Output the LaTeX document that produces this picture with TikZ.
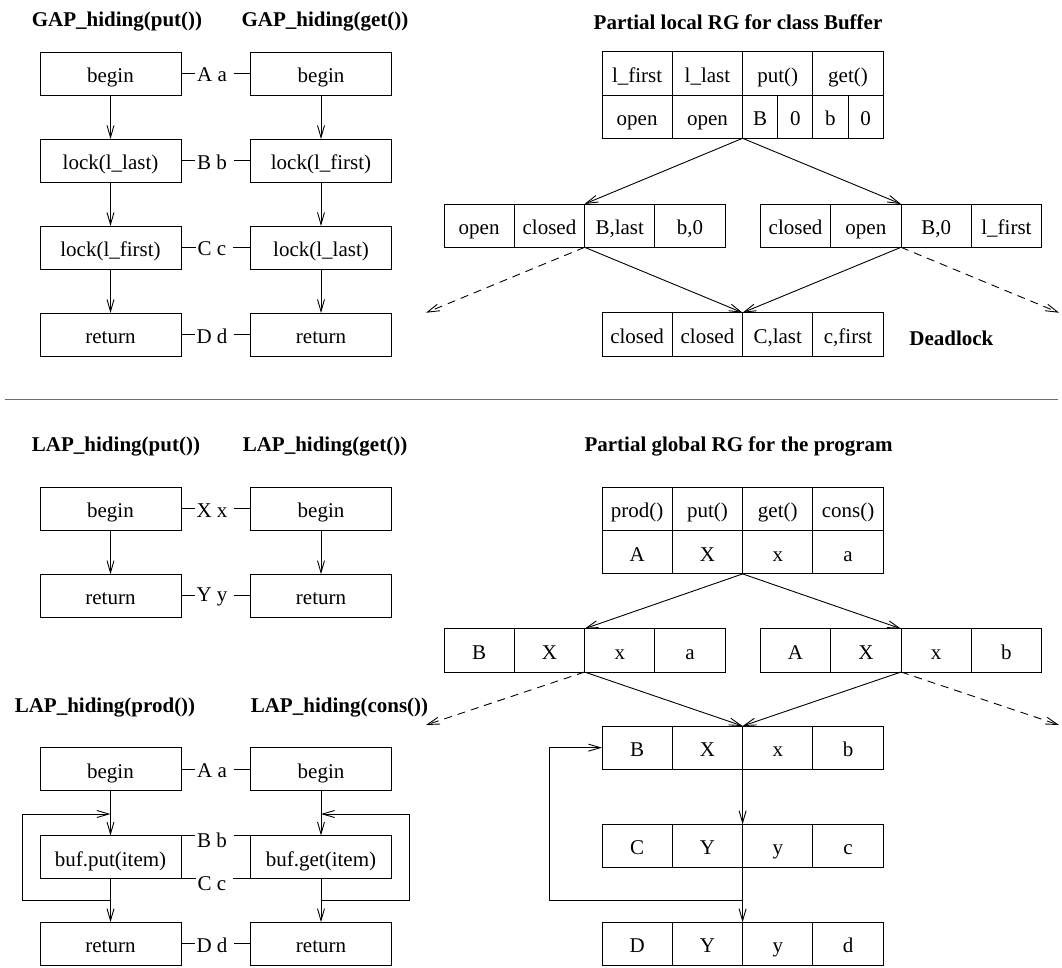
\documentclass[tikz,border=0pt]{standalone}
\usepackage{fontspec}
\setmainfont{Liberation Serif}
\usetikzlibrary{arrows.meta}
\definecolor{rulegray}{gray}{0.42}

% one row of a reachability-graph state: four cells side by side
\newcommand\rgrecord[7]{%
  \node[cell] (#1-1) at (#2,#3) {#4};
  \node[cell] (#1-2) at (#1-1.north east) {#5};
  \node[cell] (#1-3) at (#1-2.north east) {#6};
  \node[cell] (#1-4) at (#1-3.north east) {#7};
}

\begin{document}
\begin{tikzpicture}[x=1pt,y=-1pt,
  font=\fontsize{21}{25}\selectfont,
  line width=0.9pt,
  boxtext/.style={text height=19pt, text depth=1pt},
  flowbox/.style={draw, boxtext, minimum width=141pt, minimum height=43pt, inner sep=0pt, outer sep=0pt},
  cell/.style={draw, boxtext, minimum width=70.3pt, minimum height=43.3pt, inner sep=0pt, outer sep=0pt, anchor=north west},
  halfcell/.style={cell, minimum width=35.15pt},
  title/.style={font=\fontsize{21}{25}\selectfont\bfseries},
  pairlbl/.style={inner sep=1.5pt},
  arr/.style={-{Straight Barb[length=12pt,width=7pt]}},
  dasharr/.style={arr, dash pattern=on 8pt off 6pt}]
\useasboundingbox (0,0) rectangle (1062,967);

% ---------------- GAP hiding of put() and get() ----------------
\node[title] (tgp) at (117,22) {GAP\_hiding(put())};
\node[title] (tgg) at (325,22) {GAP\_hiding(get())};

\node[flowbox] (p1) at (110.5,73.5) {begin};
\node[flowbox] (p2) at (110.5,160.5) {lock(l\_last)};
\node[flowbox] (p3) at (110.5,247.5) {lock(l\_first)};
\node[flowbox] (p4) at (110.5,334.5) {return};
\node[flowbox] (q1) at (321,73.5) {begin};
\node[flowbox] (q2) at (321,160.5) {lock(l\_first)};
\node[flowbox] (q3) at (321,247.5) {lock(l\_last)};
\node[flowbox] (q4) at (321,334.5) {return};
\foreach \i/\j in {1/2,2/3,3/4}{
  \draw[arr] (p\i.south) -- (p\j.north);
  \draw[arr] (q\i.south) -- (q\j.north);
}
\foreach \i/\t in {1/A a,2/B b,3/C c,4/D d}{
  \node[pairlbl] (pq\i) at (212,{75+87*(\i-1)}) {\t};
  \draw (p\i.east) -- (p\i.east -| pq\i.west);
  \draw ([xshift=5pt]q\i.west -| pq\i.east) -- (q\i.west);
}

% ---------------- partial local RG for class Buffer ----------------
\node[title] (tlrg) at (738,22) {Partial local RG for class Buffer};

\rgrecord{lt}{602}{51.7}{l\_first}{l\_last}{put()}{get()}
\node[cell] (lb-1) at (lt-1.south west) {open};
\node[cell] (lb-2) at (lb-1.north east) {open};
\node[halfcell] (lb-3) at (lb-2.north east) {B};
\node[halfcell] (lb-4) at (lb-3.north east) {0};
\node[halfcell] (lb-5) at (lb-4.north east) {b};
\node[halfcell] (lb-6) at (lb-5.north east) {0};

\rgrecord{lm}{444}{204}{open}{closed}{B,last}{b,0}
\rgrecord{rm}{760.4}{204}{closed}{open}{B,0}{l\_first}
\rgrecord{ld}{602}{312.7}{closed}{closed}{C,last}{c,first}
\node[title] (dead) at (951.4,338) {Deadlock};

\draw[arr] (lb-2.south east) -- (lm-2.north east);
\draw[arr] (lb-2.south east) -- (rm-2.north east);
\draw[arr] (lm-2.south east) -- (ld-2.north east);
\draw[arr] (rm-2.south east) -- (ld-2.north east);
\coordinate (lfreeL) at (426,312.7);
\coordinate (lfreeR) at (1059,312.7);
\draw[dasharr] (lm-2.south east) -- (lfreeL);
\draw[dasharr] (rm-2.south east) -- (lfreeR);

% ---------------- separator ----------------
\draw[rulegray, line width=1.5pt] (5,399.7) -- (1057.7,399.7);

% ---------------- LAP hiding of put() and get() ----------------
\node[title] (tlp) at (116,447) {LAP\_hiding(put())};
\node[title] (tlg) at (325,447) {LAP\_hiding(get())};
\node[flowbox] (u1) at (110.5,508.7) {begin};
\node[flowbox] (u2) at (110.5,595.7) {return};
\node[flowbox] (v1) at (321,508.7) {begin};
\node[flowbox] (v2) at (321,595.7) {return};
\draw[arr] (u1.south) -- (u2.north);
\draw[arr] (v1.south) -- (v2.north);
\node[pairlbl] (uv1) at (212,510.2) {X x};
\node[pairlbl] (uv2) at (212,597.2) {Y y};
\foreach \i in {1,2}{
  \draw (u\i.east) -- (u\i.east -| uv\i.west);
  \draw ([xshift=5pt]v\i.west -| uv\i.east) -- (v\i.west);
}

% ---------------- LAP hiding of prod() and cons() ----------------
\node[title] (tlpr) at (105,708) {LAP\_hiding(prod())};
\node[title] (tlco) at (339.5,708) {LAP\_hiding(cons())};
\node[flowbox] (s1) at (110.5,769.2) {begin};
\node[flowbox] (s2) at (110.5,857) {buf.put(item)};
\node[flowbox] (s3) at (110.5,943.7) {return};
\node[flowbox] (t1) at (321,769.2) {begin};
\node[flowbox] (t2) at (321,857) {buf.get(item)};
\node[flowbox] (t3) at (321,943.7) {return};
\draw[arr] (s1.south) -- (s2.north);
\draw[arr] (s2.south) -- (s3.north);
\draw[arr] (t1.south) -- (t2.north);
\draw[arr] (t2.south) -- (t3.north);

\node[pairlbl] (st1) at (212,770.7) {A a};
\draw (s1.east) -- (s1.east -| st1.west);
\draw ([xshift=5pt]t1.west -| st1.east) -- (t1.west);
\node[pairlbl] (st2) at (212,840) {B b};
\draw (s2.north east) -- (st2.west |- s2.north east);
\draw ([xshift=5pt]st2.east |- s2.north east) -- (t2.north west);
\node[pairlbl] (st3) at (212,883.5) {C c};
\draw (s2.south east) -- (st3.west |- s2.south east);
\draw ([xshift=5pt]st3.east |- s2.south east) -- (t2.south west);
\node[pairlbl] (st4) at (212,945.2) {D d};
\draw (s3.east) -- (s3.east -| st4.west);
\draw ([xshift=5pt]t3.west -| st4.east) -- (t3.west);

% loops back around the buffer calls
\coordinate (sloopA) at (110.5,900);
\coordinate (sloopB) at (22.7,900);
\coordinate (sloopC) at (110.5,814);
\draw[arr] (sloopA) -- (sloopB) |- (sloopC);
\coordinate (tloopA) at (321,900);
\coordinate (tloopB) at (409,900);
\coordinate (tloopC) at (321,814);
\draw[arr] (tloopA) -- (tloopB) |- (tloopC);

% ---------------- partial global RG for the program ----------------
\node[title] (tgrg) at (738.6,446) {Partial global RG for the program};

\rgrecord{gt}{602}{487.3}{prod()}{put()}{get()}{cons()}
\rgrecord{gb}{602}{530.6}{A}{X}{x}{a}
\rgrecord{gl}{444}{628.7}{B}{X}{x}{a}
\rgrecord{gr}{760.4}{628.7}{A}{X}{x}{b}
\rgrecord{g1}{602}{726}{B}{X}{x}{b}
\rgrecord{g2}{602}{824.3}{C}{Y}{y}{c}
\rgrecord{g3}{602}{922.3}{D}{Y}{y}{d}

\draw[arr] (gb-2.south east) -- (gl-2.north east);
\draw[arr] (gb-2.south east) -- (gr-2.north east);
\draw[arr] (gl-2.south east) -- (g1-2.north east);
\draw[arr] (gr-2.south east) -- (g1-2.north east);
\coordinate (gfreeL) at (426,725);
\coordinate (gfreeR) at (1059,725);
\draw[dasharr] (gl-2.south east) -- (gfreeL);
\draw[dasharr] (gr-2.south east) -- (gfreeR);
\draw[arr] (g1-2.south east) -- (g2-2.north east);
\draw[arr] (g2-2.south east) -- (g3-2.north east);
\coordinate (gloopA) at (742.6,900);
\coordinate (gloopB) at (549.5,900);
\draw[arr] (gloopA) -- (gloopB) |- (g1-1.west);
\end{tikzpicture}
\end{document}
